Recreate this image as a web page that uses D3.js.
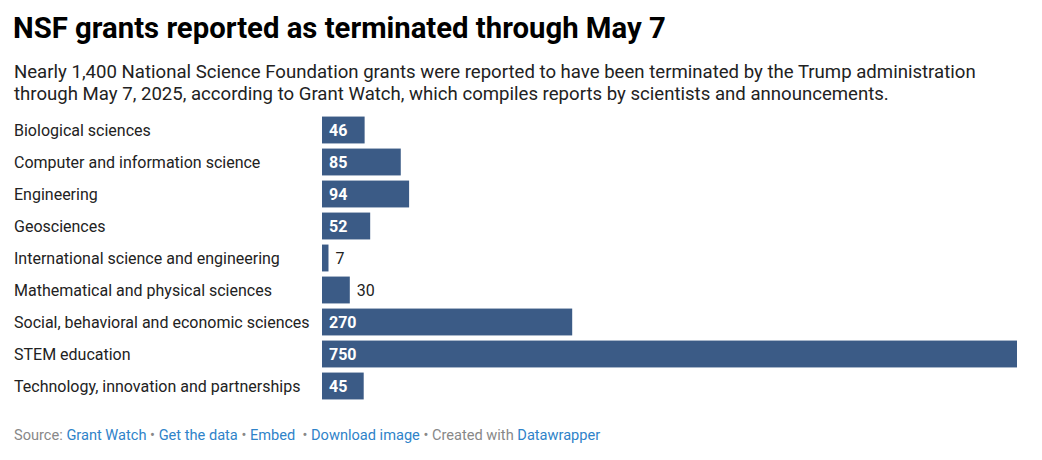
<!DOCTYPE html>
<html><head><meta charset="utf-8">
<script src="https://cdn.jsdelivr.net/npm/d3@7"></script>
<style>
body{margin:0;background:#fff;font-family:Roboto,"Noto Sans",sans-serif;}
svg{display:block}
</style></head>
<body><svg id="c" width="1042" height="460"></svg>
<script>
const categories = ["Biological sciences","Computer and information science","Engineering","Geosciences","International science and engineering","Mathematical and physical sciences","Social, behavioral and economic sciences","STEM education","Technology, innovation and partnerships"];
const values = [46,85,94,52,7,30,270,750,45];
const title = "NSF grants reported as terminated through May 7";
const subtitle = ["Nearly 1,400 National Science Foundation grants were reported to have been terminated by the Trump administration","through May 7, 2025, according to Grant Watch, which compiles reports by scientists and announcements."];

const svg = d3.select("#c");
svg.append("text").attr("x",13).attr("y",38).attr("font-size",29.3).attr("font-weight",700).attr("fill","#000").text(title);
subtitle.forEach((s,i)=>svg.append("text").attr("x",14).attr("y",78+i*21.5).attr("font-size",18.6).attr("fill","#222").text(s));

const x = d3.scaleLinear().domain([0,750]).range([322,1017]);
const y = d3.scaleBand().domain(categories).range([114,402]).paddingInner(0.16).paddingOuter(0.08);

const g = svg.append("g");
categories.forEach((c,i)=>{
  const v = values[i], yy = y(c), h = y.bandwidth();
  g.append("text").attr("x",14).attr("y",yy+h/2).attr("dy","0.35em").attr("font-size",16).attr("fill","#222").text(c);
  g.append("rect").attr("x",x(0)).attr("y",yy).attr("width",x(v)-x(0)).attr("height",h).attr("fill","#3b5b86");
  const inside = (x(v)-x(0)) > 35;
  g.append("text").attr("x", inside ? x(0)+7 : x(v)+7).attr("y",yy+h/2).attr("dy","0.35em")
    .attr("font-size",16).attr("font-weight", inside?700:400).attr("fill", inside?"#fff":"#222").text(v);
});

const foot = svg.append("text").attr("x",14).attr("y",440).attr("font-size",14.6);
const parts = [["Source: ","#888"],["Grant Watch","#2f83c9"],[" • ","#888"],["Get the data","#2f83c9"],[" • ","#888"],["Embed","#2f83c9"],["  • ","#888"],["Download image","#2f83c9"],[" • Created with ","#888"],["Datawrapper","#2f83c9"]];
parts.forEach(p=>foot.append("tspan").attr("fill",p[1]).attr("xml:space","preserve").style("white-space","pre").text(p[0]));
</script></body></html>
